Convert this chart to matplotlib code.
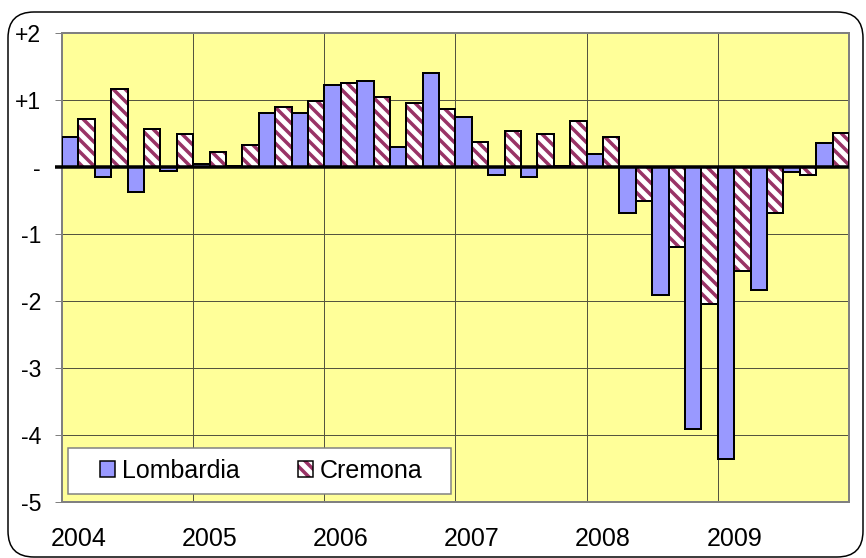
import numpy as np
import matplotlib
matplotlib.use("Agg")
import matplotlib.pyplot as plt
from matplotlib.patches import Patch, Rectangle, FancyBboxPatch
from matplotlib.legend_handler import HandlerTuple
from matplotlib.transforms import IdentityTransform

# Quarterly values, 2004 Q1 ... 2009 Q4
years = ["2004", "2005", "2006", "2007", "2008", "2009"]
lombardia = [0.45, -0.15, -0.38, -0.06,
             0.05, 0.02, 0.80, 0.80,
             1.22, 1.28, 0.30, 1.40,
             0.74, -0.12, -0.15, 0.02,
             0.20, -0.69, -1.91, -3.91,
             -4.36, -1.83, -0.08, 0.36]
cremona = [0.71, 1.16, 0.56, 0.50,
           0.23, 0.33, 0.89, 0.985,
           1.25, 1.04, 0.955, 0.86,
           0.38, 0.53, 0.50, 0.68,
           0.45, -0.50, -1.20, -2.05,
           -1.55, -0.69, -0.12, 0.51]
yticks = [-5, -4, -3, -2, -1, 0, 1, 2]
ytick_labels = ["-5", "-4", "-3", "-2", "-1", "-", "+1", "+2"]

plt.rcParams['font.family'] = ['Liberation Sans', 'DejaVu Sans']
plt.rcParams['hatch.linewidth'] = 3.5

BLUE = '#9999FF'
PLUM = '#993366'

fig = plt.figure(figsize=(866 / 72, 558 / 72), dpi=72)
ax = fig.add_axes([62 / 866, 56 / 558, 787 / 866, 469 / 558])
ax.set_facecolor('#FFFF99')

x = np.arange(len(lombardia))
ax.bar(x - 0.25, lombardia, 0.5, color=BLUE, edgecolor='black', linewidth=2, zorder=4)
# hatched fill first, then black outline on top
ax.bar(x + 0.25, cremona, 0.5, color='white', edgecolor=PLUM, hatch='\\\\', linewidth=0, zorder=3)
ax.bar(x + 0.25, cremona, 0.5, fill=False, edgecolor='black', linewidth=2, zorder=4)

# thick zero line, running into the tick area
ax.plot([-0.009, 1], [0, 0], color='black', lw=3.5, transform=ax.get_yaxis_transform(),
        clip_on=False, zorder=5, solid_capstyle='butt')

ax.set_xlim(-0.5, len(lombardia) - 0.5)
ax.set_ylim(-5, 2)
ax.set_yticks(yticks)
ax.set_yticklabels(ytick_labels)
ax.set_xticks(np.arange(0, len(lombardia), 4))
ax.set_xticklabels(years)
ax.set_xticks(np.arange(3.5, len(lombardia) - 1, 4), minor=True)

ax.set_axisbelow(True)
ax.yaxis.grid(True, color='#55553f', lw=1)
ax.xaxis.grid(True, which='minor', color='#55553f', lw=1)
ax.xaxis.grid(False, which='major')

ax.tick_params(axis='y', length=7, width=1, color='#808080', pad=14, labelsize=23)
ax.tick_params(axis='x', which='both', length=0, pad=25, labelsize=25)
for s in ax.spines.values():
    s.set_color('#808080')
    s.set_linewidth(2)

# legend box drawn by hand so the padding matches
ax.add_patch(Rectangle((0.0076, 0.017), 0.487, 0.098, transform=ax.transAxes,
                       facecolor='white', edgecolor='#808080', lw=1.5, zorder=6))
h1 = Patch(facecolor=BLUE, edgecolor='black', lw=1.5)
h2 = (Patch(facecolor='white', edgecolor=PLUM, hatch='\\\\', lw=0),
      Patch(fill=False, edgecolor='black', lw=1.5))
leg = ax.legend([h1, h2], ["Lombardia", "Cremona"], ncol=2, frameon=False,
                loc='center left', bbox_to_anchor=(0.048, 0.066), borderpad=0,
                borderaxespad=0, fontsize=25, handlelength=0.6, handleheight=0.6,
                handletextpad=0.3, columnspacing=2.3,
                handler_map={tuple: HandlerTuple(ndivide=1, pad=0)})
leg.set_zorder(7)

# rounded outer frame of the chart
frame = FancyBboxPatch((8, 1), 855, 545, boxstyle="round,pad=0,rounding_size=26",
                       transform=IdentityTransform(), facecolor='none',
                       edgecolor='black', lw=1.5)
fig.add_artist(frame)

fig.savefig("out.png", dpi=72)
